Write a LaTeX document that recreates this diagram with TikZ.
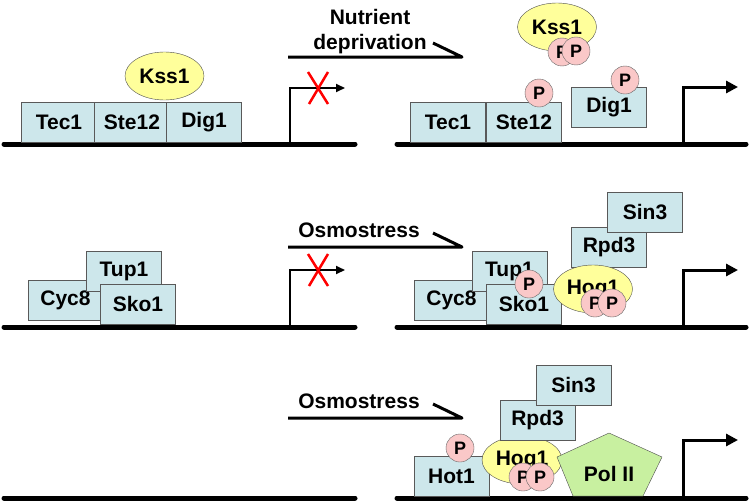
\documentclass[tikz,border=0pt]{standalone}
\usepackage{fontspec}
\setmainfont{Liberation Sans}
\usepackage{tikz}
\usetikzlibrary{arrows.meta}
\usetikzlibrary{shapes.geometric}
\definecolor{boxblue}{RGB}{205,231,235}
\definecolor{kinyellow}{RGB}{255,255,155}
\definecolor{phospink}{RGB}{250,200,200}
\definecolor{polgreen}{RGB}{200,240,160}
\tikzset{
   protein/.style={draw=black!65, fill=boxblue, minimum width=75pt,
      minimum height=40pt, inner sep=0pt,
      font=\fontsize{21}{25}\selectfont\bfseries},
   kinase/.style={ellipse, draw=black!70, fill=kinyellow, minimum width=79pt,
      minimum height=48pt, inner sep=0pt,
      font=\fontsize{21}{25}\selectfont\bfseries},
   phospho/.style={circle, draw=black!60, fill=phospink, minimum size=28pt,
      inner sep=0pt, font=\fontsize{18}{21}\selectfont\bfseries},
   polii/.style={draw=black!70, fill=polgreen},
   dna/.style={line width=5pt, line cap=round},
   tsson/.style={line width=3pt, -{Triangle[length=12pt,width=12pt]}},
   tssoff/.style={line width=2pt, -{Triangle[length=9pt,width=8pt]}},
   blocked/.style={draw=red, line width=2.5pt},
   signal/.style={line width=3pt, line join=round},
   sigtext/.style={anchor=base, font=\fontsize{21}{25}\selectfont\bfseries},
}

\begin{document}
\begin{tikzpicture}[x=1pt,y=-1pt]
   \useasboundingbox[fill=white] (0,0) rectangle (751,503);

   \draw[dna] (4,144) -- (355,144);
   \draw[dna] (397,144) -- (746,144);
   \draw[dna] (4,327) -- (355,327);
   \draw[dna] (397,327) -- (746,327);
   \draw[dna] (4,498) -- (355,498);
   \draw[dna] (397,498) -- (746,498);

   \node[protein] (tec1L) at (59,122) {Tec1};
   \node[protein] (ste12L) at (132,122) {Ste12};
   \node[protein] (dig1L) at (204,122) {Dig1};
   \node[kinase] (kss1L) at (164.5,76) {Kss1};
   \coordinate (tssL1) at (290,144);
   \coordinate (tipL1) at (345,88);
   \draw[tssoff] (tssL1) |- (tipL1);
   \draw[blocked] (308,72) -- (328,104) (328,72) -- (309,104);

   \node[sigtext] (nutA) at (370,25) {Nutrient};
   \node[sigtext] (nutB) at (370,49) {deprivation};
   \coordinate (sigS1) at (288,57);
   \coordinate (sigE1) at (462,57);
   \coordinate (barb1) at (433,43);
   \draw[signal] (sigS1) -- (sigE1) -- (barb1);

   \node[protein] (tec1R) at (448,122) {Tec1};
   \node[protein] (ste12R) at (524,122) {Ste12};
   \node[phospho] (pste12) at (539,93) {P};
   \node[protein] (dig1R) at (609,107) {Dig1};
   \node[phospho] (pdig1) at (625,80) {P};
   \node[kinase] (kss1R) at (557,27) {Kss1};
   \node[phospho] (pkssA) at (562,52) {P};
   \node[phospho] (pkssB) at (576,51) {P};
   \coordinate (tssR1) at (683,144);
   \coordinate (tipR1) at (738,87);
   \draw[tsson] (tssR1) |- (tipR1);

   \node[protein] (cyc8L) at (65.5,300) {Cyc8};
   \node[protein] (tup1L) at (124,271) {Tup1};
   \node[protein] (sko1L) at (138,304) {Sko1};
   \coordinate (tssL2) at (290,327);
   \coordinate (tipL2) at (345,270);
   \draw[tssoff] (tssL2) |- (tipL2);
   \draw[blocked] (308,254) -- (328,286) (328,254) -- (309,286);

   \node[sigtext] (osmoA) at (359,237) {Osmostress};
   \coordinate (sigS2) at (288,247);
   \coordinate (sigE2) at (462,247);
   \coordinate (barb2) at (433,233);
   \draw[signal] (sigS2) -- (sigE2) -- (barb2);

   \node[protein] (cyc8R) at (451.5,300) {Cyc8};
   \node[protein] (tup1R) at (509.5,271) {Tup1};
   \node[protein] (sko1R) at (524,304) {Sko1};
   \node[phospho] (psko1) at (529,284) {P};
   \node[protein] (rpd3A) at (609,247) {Rpd3};
   \node[protein] (sin3A) at (645,212) {Sin3};
   \node[kinase] (hog1A) at (593,289) {Hog1};
   \node[phospho] (phogA) at (595,303) {P};
   \node[phospho] (phogB) at (612,303) {P};
   \coordinate (tssR2) at (683,327);
   \coordinate (tipR2) at (738,270);
   \draw[tsson] (tssR2) |- (tipR2);

   \node[sigtext] (osmoB) at (359,408) {Osmostress};
   \coordinate (sigS3) at (288,418);
   \coordinate (sigE3) at (462,418);
   \coordinate (barb3) at (433,404);
   \draw[signal] (sigS3) -- (sigE3) -- (barb3);

   \node[protein] (hot1) at (451.5,476) {Hot1};
   \node[phospho] (phot1) at (460,448) {P};
   \node[kinase, minimum width=80pt] (hog1B) at (522,460) {Hog1};
   \node[phospho] (phogC) at (523,477) {P};
   \node[phospho] (phogD) at (540,477) {P};
   \node[protein] (rpd3B) at (537.5,420) {Rpd3};
   \node[protein] (sin3B) at (573.5,385) {Sin3};
   \draw[polii] (609,433) -- (662,457) -- (643,496) -- (573,496) -- (557,457) -- cycle;
   \node[font=\fontsize{21}{25}\selectfont\bfseries] (pol2) at (609,474) {Pol II};
   \coordinate (tssR3) at (683,498);
   \coordinate (tipR3) at (738,440);
   \draw[tsson] (tssR3) |- (tipR3);
\end{tikzpicture}
\end{document}
